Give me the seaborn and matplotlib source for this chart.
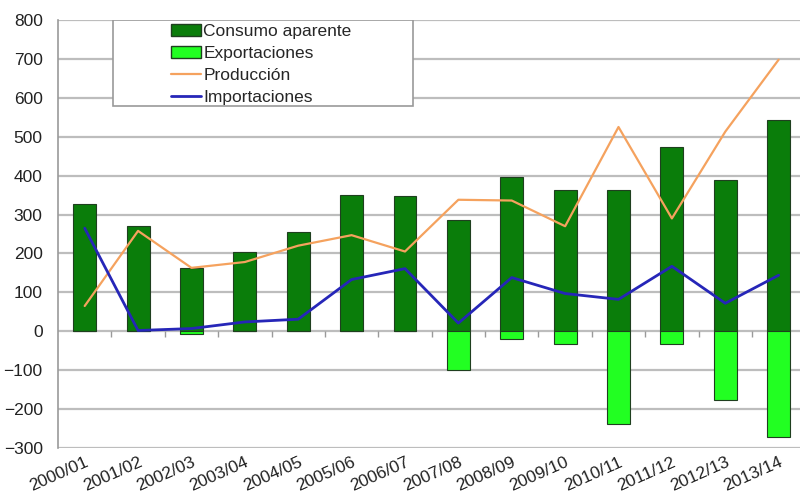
import numpy as np
import pandas as pd
import matplotlib
matplotlib.use("Agg")
import matplotlib.pyplot as plt
from matplotlib.patches import Patch, Rectangle
from matplotlib.lines import Line2D
import seaborn as sns

# --- data ---
periodos = ["2000/01", "2001/02", "2002/03", "2003/04", "2004/05", "2005/06", "2006/07",
            "2007/08", "2008/09", "2009/10", "2010/11", "2011/12", "2012/13", "2013/14"]
consumo_aparente = [328, 270, 163, 205, 256, 350, 347, 286, 396, 362, 362, 473, 388, 542]
exportaciones = [0, 0, -7, 0, 0, 0, 0, -100, -20, -32, -238, -32, -177, -272]
produccion = [65, 258, 163, 178, 220, 247, 205, 338, 336, 270, 525, 290, 513, 698]
importaciones = [265, 2, 7, 24, 31, 133, 161, 21, 138, 97, 82, 167, 72, 144]

df = pd.DataFrame({
    "periodo": periodos,
    "consumo": consumo_aparente,
    "export": exportaciones,
    "prod": produccion,
    "imp": importaciones,
})

sns.set_style("white")
plt.rcParams["font.family"] = ["Liberation Sans", "DejaVu Sans"]

dark_green = "#0A7D0A"
light_green = "#22FF22"
orange = "#F5A25E"
blue = "#2626B8"
grid_c = "#BDBDBD"

fig = plt.figure(figsize=(8, 5), dpi=100)
ax = fig.add_axes([0.0725, 0.104, 0.9275, 0.856])

# grid first so bars sit on top
for yv in range(-300, 801, 100):
    ax.axhline(yv, color=grid_c, lw=1.6, zorder=0)

sns.barplot(data=df, x="periodo", y="consumo", color=dark_green, width=0.43,
            edgecolor="#1f3f1f", linewidth=0.8, saturation=1, ax=ax, zorder=2)
sns.barplot(data=df, x="periodo", y="export", color=light_green, width=0.43,
            edgecolor="#1f3f1f", linewidth=0.8, saturation=1, ax=ax, zorder=2)
sns.lineplot(data=df, x="periodo", y="prod", color=orange, lw=1.6, sort=False, ax=ax, zorder=3)
sns.lineplot(data=df, x="periodo", y="imp", color=blue, lw=2.0, sort=False, ax=ax, zorder=4)

ax.set_xlim(-0.5, 13.4)
ax.set_ylim(-300, 800)
ax.set_yticks(range(-300, 801, 100))
ax.set_xlabel("")
ax.set_ylabel("")

for s in ["top", "right", "bottom"]:
    ax.spines[s].set_visible(False)
ax.spines["left"].set_color("#9a9a9a")
ax.spines["left"].set_linewidth(1.2)

ax.tick_params(axis="y", length=5, width=1, color="#9a9a9a", labelsize=12.5,
               labelcolor="#222222", pad=6)
ax.tick_params(axis="x", length=0, labelsize=12.5, labelcolor="#222222", pad=5)
plt.setp(ax.get_xticklabels(), rotation=24, ha="right", rotation_mode="anchor")

# small category ticks along the zero line
zero_frac = 300 / 1100
sec = ax.secondary_xaxis(zero_frac)
sec.set_xticks(np.arange(0.5, 13.5, 1.0))
sec.set_xticklabels([])
sec.tick_params(axis="x", direction="out", length=4, width=1, color="#9a9a9a")
sec.spines["bottom"].set_visible(False)
sec.spines["top"].set_visible(False)

# legend
handles = [
    Patch(facecolor=dark_green, edgecolor="#1f3f1f", label="Consumo aparente"),
    Patch(facecolor=light_green, edgecolor="#1f3f1f", label="Exportaciones"),
    Line2D([], [], color=orange, lw=1.6, label="Producción"),
    Line2D([], [], color=blue, lw=2.0, label="Importaciones"),
]
ax.add_patch(Rectangle((0.074, 0.80), 0.405, 0.20, transform=ax.transAxes,
                       facecolor="white", edgecolor="#9a9a9a", lw=1.2, zorder=5))
leg = ax.legend(handles=handles, loc="upper left", bbox_to_anchor=(0.143, 1.008),
                frameon=False, fontsize=12.5, handlelength=1.7, handleheight=0.7,
                handletextpad=0.15, labelspacing=0.4, borderaxespad=0)
leg.set_zorder(6)

plt.savefig("out.png", dpi=100)
